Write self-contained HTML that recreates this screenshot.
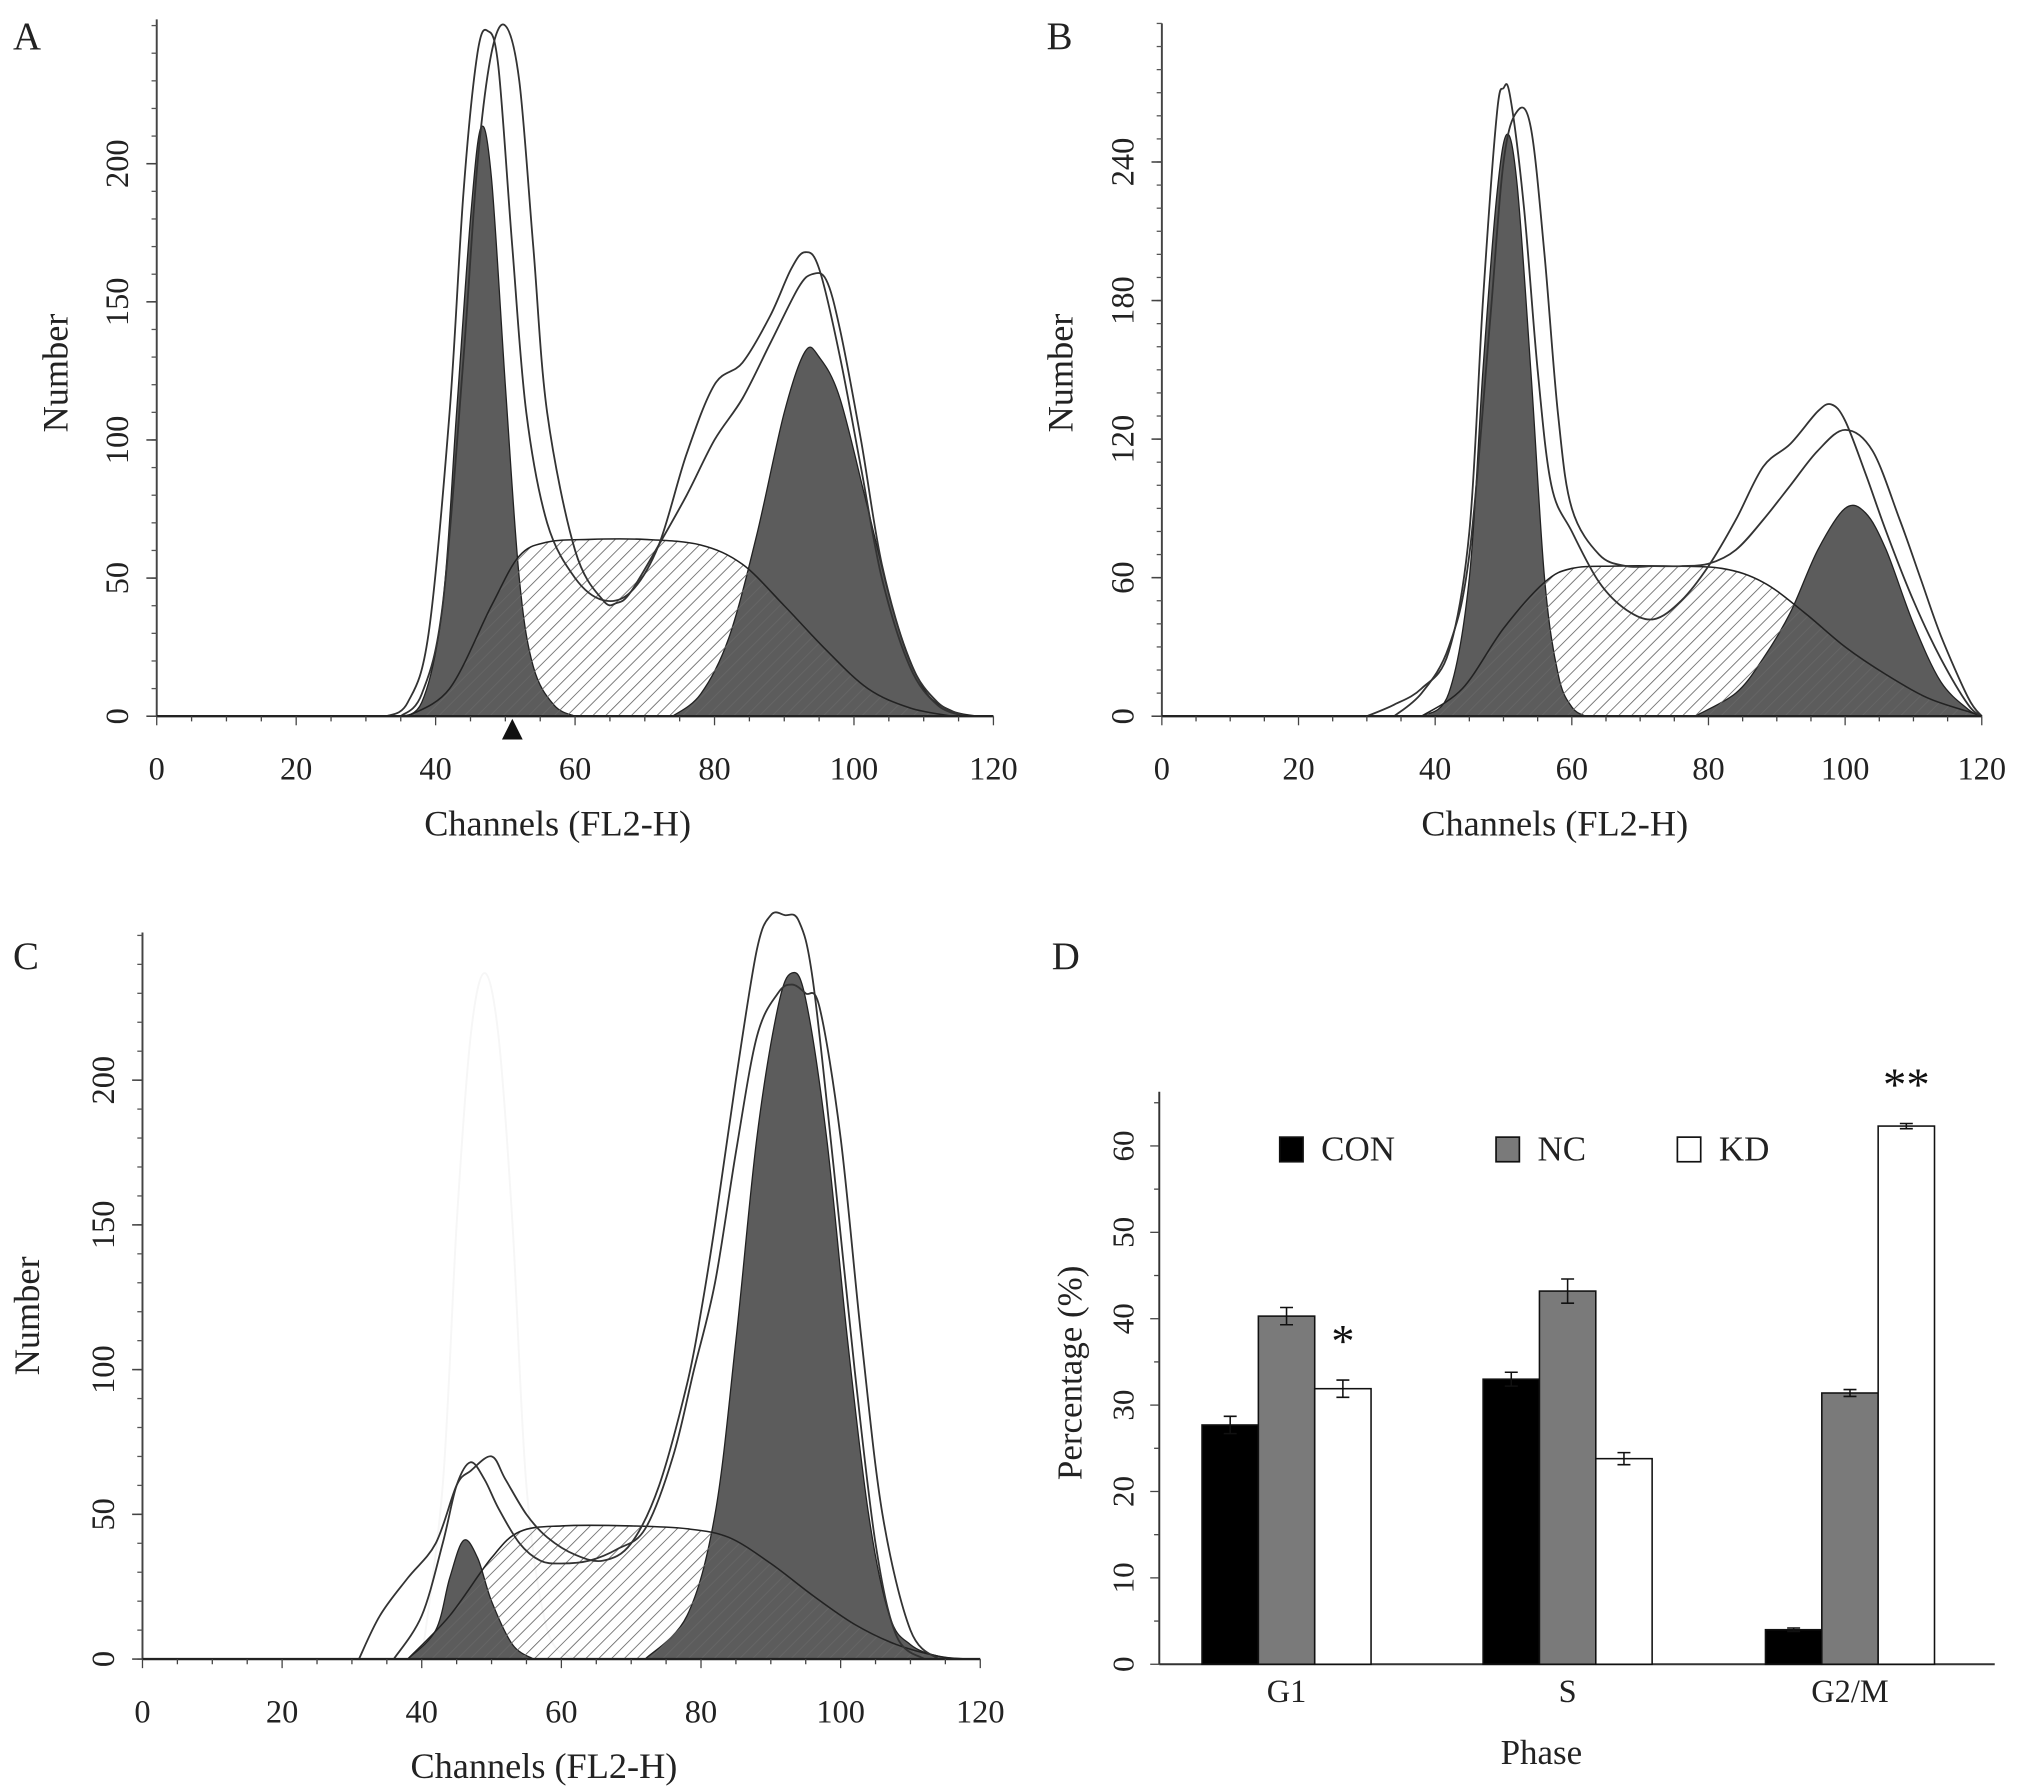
<!DOCTYPE html>
<html><head><meta charset="utf-8"><title>Cell cycle flow cytometry histograms and phase percentages</title>
<style>
html,body{margin:0;padding:0;background:#fff;}
svg{display:block;font-family:"Liberation Serif",serif;}
</style></head>
<body>
<svg id="fig" width="2031" height="1786" viewBox="0 0 1568 1379" preserveAspectRatio="none" xmlns="http://www.w3.org/2000/svg">
<defs>
<pattern id="hatch" patternUnits="userSpaceOnUse" width="7" height="7" patternTransform="rotate(45)">
<line x1="0" y1="0" x2="0" y2="7" stroke="#666" stroke-width="1.3"/>
</pattern>
</defs>
</svg>
<script>
// ---------- Panel A data ----------
const aG1Ch=[34,38,41,43,45,46.5,48,50,52,54,57,60];
const aG1N=[0,5,40,110,180,213,195,120,50,18,4,0];
const aG2Ch=[74,78,82,86,90,93,95,98,102,106,110,114,118];
const aG2N=[0,8,28,65,110,132,130,115,75,35,10,2,0];
const aSCh=[36,42,48,52,56,62,70,78,84,90,96,102,108,114];
const aSN=[0,10,40,58,63,64,64,62,55,40,24,10,3,0];
const aO1Ch=[33,36,39,42,44,46,47.5,49,51,53,56,60,64,68,72,76,80,84,88,91,93,95,98,101,104,108,112,116];
const aO1N=[0,5,30,110,190,240,248,235,170,110,70,50,42,45,62,95,120,128,145,162,168,162,130,90,50,18,4,0];
const aO2Ch=[35,38,41,44,46,48,50,52,54,56,60,64,66,68,72,76,80,84,88,92,94,96,98,101,104,108,112,116];
const aO2N=[0,8,40,130,200,240,250,230,170,110,60,42,41,45,62,80,100,115,135,155,160,158,140,100,55,20,5,0];
const aTicksY=[0,50,100,150,200];
// ---------- Panel B data ----------
const bG1Ch=[38,42,45,47,49,50.5,52,54,56,58,60,62];
const bG1N=[0,10,60,150,225,252,230,150,60,18,4,0];
const bG2Ch=[78,84,88,92,96,100,103,106,110,114,118,120];
const bG2N=[0,10,25,45,72,90,88,72,40,15,3,0];
const bSCh=[38,44,50,56,60,66,74,82,88,94,100,106,112,118,120];
const bSN=[0,12,38,58,64,65,65,64,58,45,30,18,8,2,0];
const bO1Ch=[30,34,38,42,45,47,49,50,51,53,55,57,60,64,68,72,76,80,84,88,92,96,98,100,103,106,110,114,118,120];
const bO1N=[0,5,12,28,80,180,260,272,268,220,150,100,80,58,46,42,50,65,85,108,118,132,135,128,105,80,50,25,5,0];
const bO2Ch=[34,38,42,45,48,50,52,54,56,58,60,64,68,72,76,80,84,88,92,96,100,104,108,111,114,118,120];
const bO2N=[0,10,30,70,170,240,262,255,200,130,90,70,65,65,65,66,72,85,100,115,124,115,85,60,35,8,0];
const bTicksY=[0,60,120,180,240];
// ---------- Panel C data ----------
const cG1Ch=[38,42,44,46,48,50,53,56];
const cG1N=[0,10,28,41,35,20,5,0];
const cG2Ch=[72,78,82,85,88,91,93,95,98,101,104,107,110,114,118];
const cG2N=[0,15,50,110,180,225,237,228,180,110,50,15,5,1,0];
const cSCh=[38,44,50,54,60,70,78,84,90,96,102,108,114,118];
const cSN=[0,15,35,44,46,46,45,42,33,22,12,5,1,0];
const cO1Ch=[31,34,38,42,45,47,50,52,55,58,62,66,70,74,78,80,82,85,88,90,92,94,96,99,102,105,108,112];
const cO1N=[0,15,28,40,60,65,70,62,50,42,36,34,40,60,95,120,150,200,245,257,257,255,235,170,100,40,8,0];
const cO2Ch=[36,40,43,45,47,49,51,54,57,60,64,68,72,76,79,82,85,88,91,93,95,97,100,103,106,110,114];
const cO2N=[0,15,40,60,68,62,52,40,34,33,34,38,45,70,100,130,175,215,230,233,230,225,180,110,50,10,0];
const cGhostCh=[40,43,45,47,49,51,53,55,58,62];
const cGhostN=[0,60,150,215,237,215,150,60,10,0];
const cTicksY=[0,50,100,150,200];
const xTicks=[0,20,40,60,80,100,120];
// ---------- Panel D data ----------
const phases=["G1","S","G2/M"];
const conVals=[27.7,33.0,4.0];
const ncVals=[40.3,43.2,31.4];
const kdVals=[31.9,23.8,62.3];
const conErr=[1.0,0.8,0.2];
const ncErr=[1.0,1.4,0.4];
const kdErr=[1.0,0.7,0.3];
const sigMarks=["*","","**"];
const dTicks=[10,20,30,40,50,60];

const svg=document.getElementById('fig');
const NS="http://www.w3.org/2000/svg";
function mk(tag,attrs,parent,txt){const e=document.createElementNS(NS,tag);for(const k in attrs)e.setAttribute(k,attrs[k]);if(txt!==undefined)e.textContent=txt;(parent||svg).appendChild(e);return e;}
function smooth(p){let d=`M${p[0][0].toFixed(1)},${p[0][1].toFixed(1)}`;for(let i=0;i<p.length-1;i++){const p0=p[i-1]||p[i],p1=p[i],p2=p[i+1],p3=p[i+2]||p2;const c1=[p1[0]+(p2[0]-p0[0])/6,p1[1]+(p2[1]-p0[1])/6];const c2=[p2[0]-(p3[0]-p1[0])/6,p2[1]-(p3[1]-p1[1])/6];d+=` C${c1[0].toFixed(1)},${c1[1].toFixed(1)} ${c2[0].toFixed(1)},${c2[1].toFixed(1)} ${p2[0].toFixed(1)},${p2[1].toFixed(1)}`;}return d;}

function histPanel(cfg){
  const g=mk('g',{});
  
  
  const xs=c=>cfg.x0+c*cfg.kx, ys=n=>cfg.y0-n*cfg.ky;
  const pts=(ch,n)=>ch.map((c,i)=>[xs(c),ys(n[i])]);
  const area=(ch,n)=>smooth(pts(ch,n))+` L${xs(ch[ch.length-1])},${cfg.y0} L${xs(ch[0])},${cfg.y0} Z`;
  if(cfg.ghost){const e=mk('path',{d:smooth(pts(cfg.ghost[0],cfg.ghost[1])),fill:'none',stroke:'#f6f6f6','stroke-width':1.5},g);}
  let e=mk('path',{d:area(cfg.g1[0],cfg.g1[1]),fill:'#5c5c5c',stroke:'#222','stroke-width':1},g);
  
  e=mk('path',{d:area(cfg.g2[0],cfg.g2[1]),fill:'#5c5c5c',stroke:'#222','stroke-width':1},g);
  
  e=mk('path',{d:area(cfg.s[0],cfg.s[1]),fill:'url(#hatch)',stroke:'#222','stroke-width':1.2},g);
  
  cfg.outlines.forEach((o,i)=>{const l=mk('path',{d:smooth(pts(o[0],o[1])),fill:'none',stroke:'#333','stroke-width':1.4},g);});
  const top=cfg.top;
  e=mk('line',{x1:cfg.x0,y1:cfg.y0,x2:cfg.x0,y2:top,stroke:'#444','stroke-width':1.5},g);
  
  e=mk('line',{x1:cfg.x0,y1:cfg.y0,x2:xs(120),y2:cfg.y0,stroke:'#222','stroke-width':1.8},g);
  
  for(let v=0;ys(v)>=top;v+=cfg.minor){mk('line',{x1:cfg.x0-4,y1:ys(v),x2:cfg.x0,y2:ys(v),stroke:'#555','stroke-width':1},g);}
  cfg.ticksY.forEach(v=>{mk('line',{x1:cfg.x0-8,y1:ys(v),x2:cfg.x0,y2:ys(v),stroke:'#444','stroke-width':1.2},g);
    const t=mk('text',{x:cfg.x0-22,y:ys(v),transform:`rotate(-90 ${cfg.x0-22} ${ys(v)})`,'text-anchor':'middle','font-size':25,fill:'#222'},g,String(v));
    });
  for(let c=0;c<=120;c+=5){mk('line',{x1:xs(c),y1:cfg.y0,x2:xs(c),y2:cfg.y0+(c%20===0?7:4),stroke:'#444','stroke-width':1},g);}
  xTicks.forEach(c=>{const t=mk('text',{x:xs(c),y:cfg.y0+49,'text-anchor':'middle','font-size':25,fill:'#222'},g,String(c));
    });
  let t=mk('text',{x:xs(57.5),y:cfg.y0+92,'text-anchor':'middle','font-size':28,fill:'#222'},g,'Channels (FL2-H)');
  
  const yl=cfg.y0-265;
  t=mk('text',{x:cfg.ylx,y:yl,transform:`rotate(-90 ${cfg.ylx} ${yl})`,'text-anchor':'middle','font-size':28,fill:'#222'},g,'Number');
  
  t=mk('text',{x:cfg.lx,y:cfg.ly,'font-size':30,fill:'#222'},g,cfg.letter);
  
  if(cfg.marker!==undefined){const m=mk('path',{d:`M${xs(cfg.marker)-8},${cfg.y0+18} L${xs(cfg.marker)+8},${cfg.y0+18} L${xs(cfg.marker)},${cfg.y0+2} Z`,fill:'#111'},g);}
}

histPanel({name:'panel-a-histogram',letter:'A',lx:10,ly:38,x0:121,kx:5.383,y0:553,ky:2.133,top:15,minor:10,ylx:52,
  g1:[aG1Ch,aG1N],g2:[aG2Ch,aG2N],s:[aSCh,aSN],outlines:[[aO1Ch,aO1N],[aO2Ch,aO2N]],ticksY:aTicksY,marker:51});
histPanel({name:'panel-b-histogram',letter:'B',lx:808,ly:38,x0:897,kx:5.275,y0:553,ky:1.783,top:18,minor:10,ylx:828,
  g1:[bG1Ch,bG1N],g2:[bG2Ch,bG2N],s:[bSCh,bSN],outlines:[[bO1Ch,bO1N],[bO2Ch,bO2N]],ticksY:bTicksY});
histPanel({name:'panel-c-histogram',letter:'C',lx:10,ly:748,x0:110,kx:5.39,y0:1281,ky:2.235,top:720,minor:10,ylx:30,
  g1:[cG1Ch,cG1N],g2:[cG2Ch,cG2N],s:[cSCh,cSN],outlines:[[cO1Ch,cO1N],[cO2Ch,cO2N]],ticksY:cTicksY,ghost:[cGhostCh,cGhostN]});

// ---------- Panel D bar chart ----------
(function(){
  const g=mk('g',{});
  
  
  const x0=895,y0=1285,k=6.67,groupStart=[928,1145,1363],bw=43.5;
  const ys=v=>y0-v*k;
  let e=mk('line',{x1:x0,y1:y0,x2:x0,y2:843,stroke:'#333','stroke-width':1.5},g);
  
  e=mk('line',{x1:x0,y1:y0,x2:1540,y2:y0,stroke:'#333','stroke-width':1.5},g);
  
  for(let v=0;v<=65;v+=5){mk('line',{x1:x0-(v%10===0?7:4),y1:ys(v),x2:x0,y2:ys(v),stroke:'#444','stroke-width':1},g);}
  dTicks.forEach(v=>{const t=mk('text',{x:x0-20,y:ys(v),transform:`rotate(-90 ${x0-20} ${ys(v)})`,'text-anchor':'middle','font-size':24,fill:'#222'},g,String(v));
    });
  const t0=mk('text',{x:x0-20,y:y0,transform:`rotate(-90 ${x0-20} ${y0})`,'text-anchor':'middle','font-size':24,fill:'#222'},g,'0');
  
  const series=[[conVals,conErr,'#000','con'],[ncVals,ncErr,'#7a7a7a','nc'],[kdVals,kdErr,'#fff','kd']];
  phases.forEach((p,i)=>{
    series.forEach((s,j)=>{
      const x=groupStart[i]+j*bw, v=s[0][i], er=s[1][i];
      const r=mk('rect',{x:x,y:ys(v),width:bw,height:y0-ys(v),fill:s[2],stroke:'#111','stroke-width':1.2},g);
      
      
      const cx=x+bw/2;
      const eb=mk('path',{d:`M${cx},${ys(v+er)} L${cx},${ys(v-er)} M${cx-5},${ys(v+er)} L${cx+5},${ys(v+er)} M${cx-5},${ys(v-er)} L${cx+5},${ys(v-er)}`,stroke:'#111','stroke-width':1.2,fill:'none'},g);
      
    });
    const t=mk('text',{x:groupStart[i]+bw*1.5,y:1314,'text-anchor':'middle','font-size':25,fill:'#222'},g,p);
    
    if(sigMarks[i]){const kx=groupStart[i]+bw*2.5, top=ys(kdVals[i]+kdErr[i]);
      const st=mk('text',{x:kx,y:top-18,'text-anchor':'middle','font-size':36,fill:'#111'},g,sigMarks[i]);
      }
  });
  let t=mk('text',{x:1190,y:1362,'text-anchor':'middle','font-size':27,fill:'#222'},g,'Phase');
  
  t=mk('text',{x:835,y:1060,transform:'rotate(-90 835 1060)','text-anchor':'middle','font-size':27,fill:'#222'},g,'Percentage (%)');
  
  t=mk('text',{x:812,y:748,'font-size':30,fill:'#222'},g,'D');
  
  const leg=[[988,'#000','CON'],[1155,'#7a7a7a','NC'],[1295,'#fff','KD']];
  leg.forEach(l=>{
    const lg=mk('g',{},g);
    
    
    mk('rect',{x:l[0],y:878,width:18,height:19,fill:l[1],stroke:'#111','stroke-width':1.3},lg);
    mk('text',{x:l[0]+32,y:896,'font-size':27,fill:'#222'},lg,l[2]);
  });
})();
</script>
</body></html>
